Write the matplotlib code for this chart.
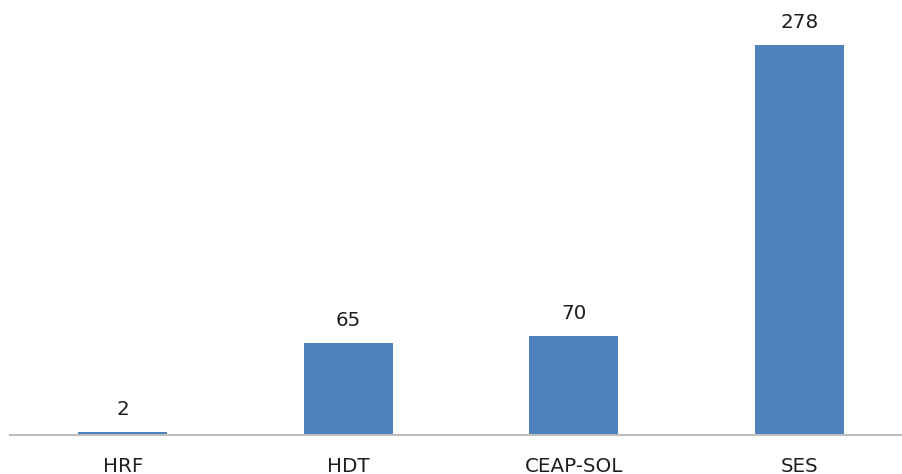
import matplotlib.pyplot as plt

# data
categories = ["HRF", "HDT", "CEAP-SOL", "SES"]
counts = [2, 65, 70, 278]

bar_color = "#4F81BD"
text_color = "#1F1F1F"

plt.rcParams['font.family'] = ['DejaVu Sans']

fig = plt.figure(figsize=(9.02, 4.74), dpi=100)
# axes runs a little past the right edge, like the source layout
ax = fig.add_axes([10 / 902, 39.5 / 474, 902 / 902, 420.3 / 474])

x = list(range(len(categories)))
bars = ax.bar(x, counts, width=0.395, color=bar_color, zorder=2)

for rect, v in zip(bars, counts):
    ax.annotate(str(v), (rect.get_x() + rect.get_width() / 2, v),
                xytext=(0, 9.5), textcoords="offset points",
                ha="center", va="bottom", fontsize=14.3, color=text_color)

ax.set_xlim(-0.5, 3.5)
ax.set_ylim(0, 300)
ax.set_xticks(x)
ax.set_xticklabels(categories, fontsize=14.3, color=text_color)
ax.tick_params(axis="x", length=0, pad=16)
ax.set_yticks([])

for side in ["top", "right", "left"]:
    ax.spines[side].set_visible(False)
ax.spines["bottom"].set_color("#BFBFBF")
ax.spines["bottom"].set_linewidth(1.5)
ax.spines["bottom"].set_zorder(3)

fig.savefig("out.png", dpi=100)
